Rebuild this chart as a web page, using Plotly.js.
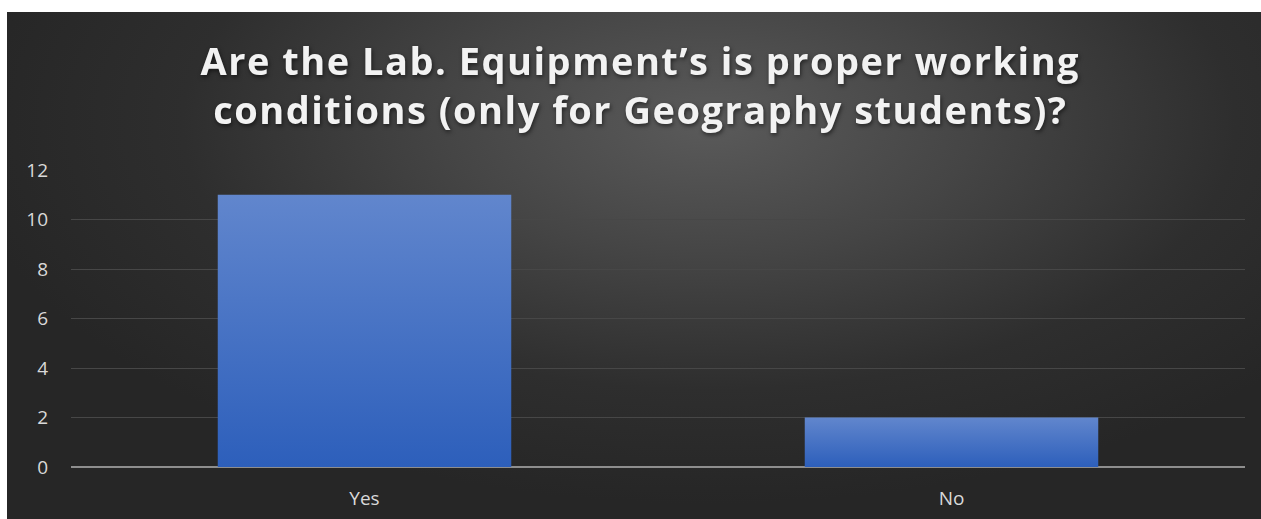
<!DOCTYPE html>
<html>
<head>
<meta charset="utf-8">
<script src="https://cdn.plot.ly/plotly-3.0.1.min.js"></script>
<style>
  html, body { margin: 0; padding: 0; background: #ffffff; width: 1261px; height: 519px; overflow: hidden; }
  #chart {
    position: absolute; left: 7px; top: 12px; width: 1254px; height: 507px;
    background: radial-gradient(ellipse 60% 75% at 56% 22%, #5a5a5a 0%, #454545 35%, #2e2e2e 70%, #262626 100%);
  }
  #chart .gtitle { letter-spacing: 1.5px; filter: drop-shadow(1px 2px 2px rgba(0,0,0,0.55)); }
</style>
</head>
<body>
<div id="chart"></div>
<script>
const categories = ["Yes", "No"];
const counts = [11, 2];
const yTicks = [0, 2, 4, 6, 8, 10, 12];
const titleText = "Are the Lab. Equipment\u2019s is proper working<br>conditions (only for Geography students)?";

const data = [{
  type: "bar",
  x: categories,
  y: counts,
  width: 0.5,
  marker: { color: "#4472c4", line: { width: 0 } },
  hoverinfo: "none"
}];

const layout = {
  width: 1254, height: 507,
  paper_bgcolor: "rgba(0,0,0,0)",
  plot_bgcolor: "rgba(0,0,0,0)",
  margin: { l: 64, r: 16, t: 158, b: 52 },
  showlegend: false,
  title: {
    text: titleText,
    x: 0.505, xanchor: "center",
    yref: "container",
    y: 0.876, yanchor: "middle",
    font: { family: "Open Sans, sans-serif", size: 38, color: "#f2f2f2", weight: 700 }
  },
  xaxis: {
    type: "category",
    showgrid: false, showline: false, zeroline: false,
    ticks: "",
    tickfont: { family: "Open Sans, sans-serif", size: 19, color: "#d9d9d9" },
    ticklabelstandoff: 18
  },
  yaxis: {
    range: [0, 12],
    tickvals: yTicks,
    ticktext: yTicks.map(String),
    showgrid: true, gridcolor: "#474747", gridwidth: 1,
    zeroline: true, zerolinecolor: "#8e8e8e", zerolinewidth: 2,
    showline: false, ticks: "",
    tickfont: { family: "Open Sans, sans-serif", size: 19, color: "#d9d9d9" },
    ticklabelstandoff: 22
  }
};

Plotly.newPlot("chart", data, layout, { staticPlot: true, displayModeBar: false }).then(function (gd) {
  const svg = gd.querySelector("svg.main-svg");
  const ns = "http://www.w3.org/2000/svg";
  let defs = svg.querySelector("defs");
  if (!defs) { defs = document.createElementNS(ns, "defs"); svg.insertBefore(defs, svg.firstChild); }
  const g = document.createElementNS(ns, "linearGradient");
  g.setAttribute("id", "barGrad");
  g.setAttribute("x1", "0"); g.setAttribute("y1", "0");
  g.setAttribute("x2", "0"); g.setAttribute("y2", "1");
  [["0%", "#6186cd"], ["100%", "#2d5fbb"]].forEach(function (s) {
    const st = document.createElementNS(ns, "stop");
    st.setAttribute("offset", s[0]); st.setAttribute("stop-color", s[1]);
    g.appendChild(st);
  });
  defs.appendChild(g);
  gd.querySelectorAll(".bars path").forEach(function (p) {
    p.style.fill = "url(#barGrad)";
  });
});
</script>
</body>
</html>
